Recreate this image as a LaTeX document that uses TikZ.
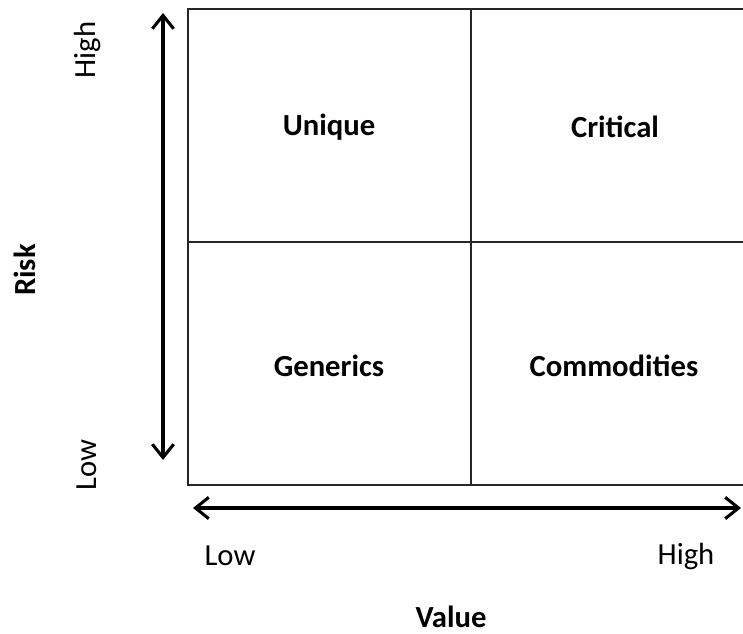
\documentclass[tikz,border=0pt]{standalone}
\usepackage{fontspec}
\setmainfont{Carlito}
\usetikzlibrary{arrows.meta}
\begin{document}
\begin{tikzpicture}[x=0.75pt, y=-0.75pt,
    every node/.style={font=\fontsize{23}{26}\selectfont},
    quad/.style={font=\fontsize{23}{26}\selectfont\bfseries},
    axisarrow/.style={line width=2.3pt, {Straight Barb[length=10pt,width=16pt]}-{Straight Barb[length=10pt,width=16pt]}}]
  \useasboundingbox (0,0) rectangle (743,634);
  % grid corners and centre lines
  \coordinate (tl) at (188,9);
  \coordinate (tr) at (745,9);
  \coordinate (bl) at (188,485);
  \coordinate (br) at (745,485);
  \coordinate (mt) at (471,9);
  \coordinate (mb) at (471,485);
  \coordinate (ml) at (188,242);
  \coordinate (mr) at (745,242);
  \draw[line width=1.2pt, black!85] (tr) -- (tl) -- (bl) -- (br);
  \draw[line width=1.2pt, black!85] (mt) -- (mb) (ml) -- (mr);
  % quadrant names
  \node[quad] (unique) at (329,127) {Unique};
  \node[quad] (critical) at (615,127) {Critical};
  \node[quad] (generics) at (329,366) {Generics};
  \node[quad] (commod) at (614,366) {Commodities};
  % axes
  \coordinate (rtop) at (163,13);
  \coordinate (rbot) at (163,460);
  \coordinate (vleft) at (193,508);
  \coordinate (vright) at (741,508);
  \draw[axisarrow] (rbot) -- (rtop);
  \draw[axisarrow] (vleft) -- (vright);
  \node[rotate=90] (rhigh) at (87,50) {High};
  \node[rotate=90] (rlow) at (87,465) {Low};
  \node[quad, rotate=90] (risk) at (25,270) {Risk};
  \node (vlow) at (230,556) {Low};
  \node (vhigh) at (686,556) {High};
  \node[quad] (value) at (451,617) {Value};
\end{tikzpicture}
\end{document}
